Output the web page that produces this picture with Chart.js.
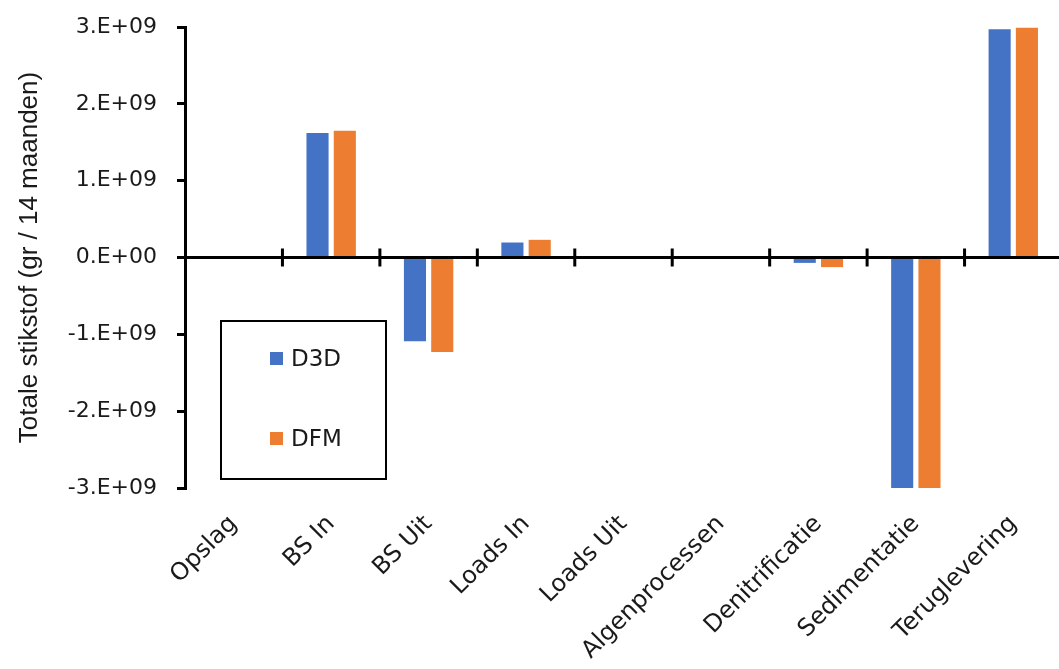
<!DOCTYPE html>
<html>
<head>
<meta charset="utf-8">
<script src="https://cdn.jsdelivr.net/npm/chart.js@4.4.1/dist/chart.umd.min.js"></script>
<style>
  body { margin: 0; background: #fff; overflow: hidden; }
  #wrap { position: relative; width: 1066px; height: 669px; }
  #legend {
    position: absolute; left: 220px; top: 320px; width: 163px; height: 156px;
    border: 2px solid #000; font-family: "DejaVu Sans", sans-serif;
    font-size: 23px; color: #1a1a1a;
  }
  .item { position: absolute; left: 48px; display: flex; align-items: center; }
  .item span.sw { width: 13px; height: 13px; margin-right: 8px; display: inline-block; }
</style>
</head>
<body>
<div id="wrap">
  <canvas id="myChart" width="1066" height="669"></canvas>
  <div id="legend"></div>
</div>
<script>
// data
const categories = ['Opslag', 'BS In', 'BS Uit', 'Loads In', 'Loads Uit', 'Algenprocessen', 'Denitrificatie', 'Sedimentatie', 'Teruglevering'];
const d3d = [0, 1.62e9, -1.09e9, 0.195e9, 0, 0, -0.07e9, -3.0e9, 2.97e9];
const dfm = [0, 1.65e9, -1.23e9, 0.23e9, 0, 0, -0.125e9, -3.0e9, 2.99e9];
const yTicks = [-3e9, -2e9, -1e9, 0, 1e9, 2e9, 3e9];

const blue = '#4472C4';
const orange = '#ED7D31';
const tickFont = '"DejaVu Sans", sans-serif';
const titleFont = '"Liberation Sans", Arial, sans-serif';

// zero line with crossing tick marks
const zeroAxis = {
    id: 'zeroAxis',
    afterDatasetsDraw(chart) {
        const { ctx, chartArea, scales } = chart;
        const y0 = scales.y.getPixelForValue(0);
        ctx.save();
        ctx.strokeStyle = '#000';
        ctx.lineWidth = 3;
        ctx.beginPath();
        ctx.moveTo(chartArea.left, y0);
        ctx.lineTo(chartArea.right, y0);
        for (let i = 1; i < categories.length; i++) {
            const x = (scales.x.getPixelForValue(i - 1) + scales.x.getPixelForValue(i)) / 2;
            ctx.moveTo(x, y0 - 9);
            ctx.lineTo(x, y0 + 9);
        }
        ctx.stroke();
        ctx.restore();
    }
};

const ctx = document.getElementById('myChart');
const chart = new Chart(ctx, {
    type: 'bar',
    data: {
        labels: categories,
        datasets: [
            { label: 'D3D', data: d3d, backgroundColor: blue },
            { label: 'DFM', data: dfm, backgroundColor: orange }
        ]
    },
    options: {
        responsive: false,
        animation: false,
        categoryPercentage: 0.56,
        barPercentage: 0.81,
        layout: { padding: { top: 27, right: 4, left: 0, bottom: 0 } },
        plugins: {
            legend: { display: false },
            tooltip: { enabled: false }
        },
        scales: {
            x: {
                grid: { display: false },
                border: { display: false },
                ticks: {
                    color: '#1a1a1a',
                    font: { family: tickFont, size: 24 },
                    minRotation: 45,
                    maxRotation: 45,
                    padding: 14
                },
                afterFit: s => { s.height = 181; }
            },
            y: {
                min: -3e9,
                max: 3e9,
                afterBuildTicks: s => { s.ticks = yTicks.map(v => ({ value: v })); },
                border: { display: true, color: '#000', width: 3 },
                grid: {
                    drawOnChartArea: false, drawTicks: true, tickLength: 15,
                    tickBorderDash: [0, 7, 12, 100], color: '#000', lineWidth: 3
                },
                ticks: {
                    color: '#1a1a1a',
                    font: { family: tickFont, size: 22 },
                    padding: 13,
                    callback: v => v === 0 ? '0.E+00' : (v < 0 ? '-' : '') + Math.abs(v / 1e9) + '.E+09'
                },
                title: {
                    display: true,
                    text: 'Totale stikstof (gr / 14 maanden)',
                    color: '#1a1a1a',
                    font: { family: titleFont, size: 26 },
                    padding: { top: 14, bottom: 0 }
                },
                afterFit: s => { s.width = 185; }
            }
        }
    },
    plugins: [zeroAxis]
});

// legend box
const legend = document.getElementById('legend');
chart.data.datasets.forEach((ds, i) => {
    const item = document.createElement('div');
    item.className = 'item';
    item.style.top = (i === 0 ? 23 : 103) + 'px';
    item.innerHTML = '<span class="sw" style="background:' + ds.backgroundColor + '"></span>' + ds.label;
    legend.appendChild(item);
});
</script>
</body>
</html>
